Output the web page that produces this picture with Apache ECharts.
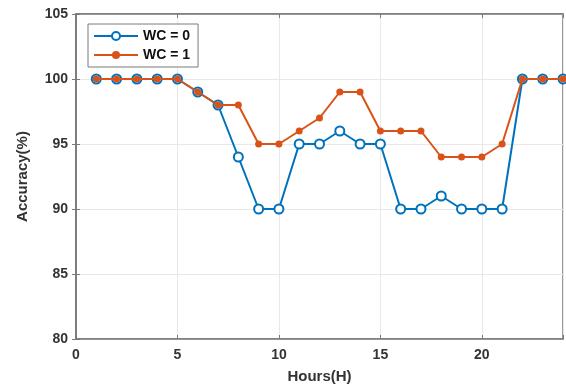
<!DOCTYPE html>
<html><head><meta charset="utf-8">
<script src="https://cdn.jsdelivr.net/npm/echarts@6/dist/echarts.min.js"></script>
<style>html,body{margin:0;padding:0;background:#fff}#c{width:566px;height:387px}</style>
</head><body><div id="c"></div>
<script>
const hours = [1,2,3,4,5,6,7,8,9,10,11,12,13,14,15,16,17,18,19,20,21,22,23,24];
const wc0 = [100,100,100,100,100,99,98,94,90,90,95,95,96,95,95,90,90,91,90,90,90,100,100,100];
const wc1 = [100,100,100,100,100,99,98,98,95,95,96,97,99,99,96,96,96,94,94,94,95,100,100,100];
const xTicks = [0,5,10,15,20];
const yTicks = [80,85,90,95,100,105];
const seriesNames = ['WC = 0','WC = 1'];

const chart = echarts.init(document.getElementById('c'));
const font = 'Liberation Sans, Arial, sans-serif';
const txt = '#333';
const axc = '#7a7a7a';
const axisCommon = {
  axisLine:{show:true,onZero:false,lineStyle:{color:axc,width:1.5}},
  axisTick:{show:true,inside:true,length:4,lineStyle:{color:axc}},
  splitLine:{show:true,lineStyle:{color:'#e8e8e8',width:1}}
};
chart.setOption({
  animation:false,
  grid:{left:76,right:3,top:14,bottom:48,show:true,borderColor:axc,borderWidth:1.5,outerBoundsMode:'none',containLabel:false},
  legend:{
    data:seriesNames, orient:'vertical', left:88, top:24,
    itemWidth:44, itemHeight:10, itemGap:5,
    padding:[5,8,5,5],
    borderColor:axc, borderWidth:1, backgroundColor:'#fff',
    textStyle:{fontFamily:font,fontWeight:'bold',fontSize:14,color:'#111'}
  },
  xAxis:[{
    type:'value', min:0, max:24, interval:5,
    name:'Hours(H)', nameLocation:'middle', nameGap:30,
    nameTextStyle:{fontFamily:font,fontWeight:'bold',fontSize:15,color:txt},
    axisLabel:{fontFamily:font,fontWeight:'bold',fontSize:14,color:txt,margin:9,
      formatter:v=>xTicks.includes(v)?String(v):''},
    ...axisCommon
  },{
    type:'value', min:0, max:24, interval:5, position:'top',
    axisLabel:{show:false}, splitLine:{show:false},
    axisLine:{show:true,lineStyle:{color:axc,width:1.5}},
    axisTick:{show:true,inside:true,length:4,lineStyle:{color:axc}}
  }],
  yAxis:[{
    type:'value', min:80, max:105, interval:5,
    name:'Accuracy(%)', nameLocation:'middle', nameGap:46,
    nameTextStyle:{fontFamily:font,fontWeight:'bold',fontSize:15,color:txt},
    axisLabel:{fontFamily:font,fontWeight:'bold',fontSize:14,color:txt,margin:8,
      formatter:v=>yTicks.includes(v)?String(v):''},
    ...axisCommon
  },{
    type:'value', min:80, max:105, interval:5, position:'right',
    axisLabel:{show:false}, splitLine:{show:false},
    axisLine:{show:true,lineStyle:{color:axc,width:1.5}},
    axisTick:{show:true,inside:true,length:4,lineStyle:{color:axc}}
  }],
  series:[{
    name:seriesNames[0], type:'line',
    data:hours.map((h,i)=>[h,wc0[i]]),
    symbol:'emptyCircle', symbolSize:9,
    lineStyle:{color:'#0072BD',width:2},
    itemStyle:{color:'#0072BD',borderWidth:2},
    z:3
  },{
    name:seriesNames[1], type:'line',
    data:hours.map((h,i)=>[h,wc1[i]]),
    symbol:'circle', symbolSize:7,
    lineStyle:{color:'#D95319',width:2},
    itemStyle:{color:'#D95319'},
    z:4
  }]
});
</script></body></html>
